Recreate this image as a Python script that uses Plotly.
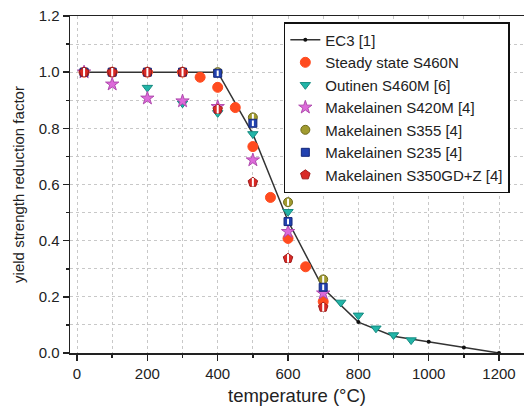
import plotly.graph_objects as go

# EC3 [1]
ec3_t = [20, 100, 200, 300, 400, 500, 600, 700, 800, 900, 1000, 1100, 1200]
ec3_k = [1.0, 1.0, 1.0, 1.0, 1.0, 0.78, 0.47, 0.23, 0.11, 0.06, 0.04, 0.02, 0.0]

# Steady state S460N
ss_t = [20, 100, 200, 300, 350, 400, 450, 500, 550, 600, 650, 700]
ss_k = [1.0, 1.0, 1.0, 1.0, 0.982, 0.946, 0.874, 0.735, 0.554, 0.408, 0.307, 0.183]

# Outinen S460M [6]
ou_t = [20, 200, 300, 400, 500, 600, 750, 800, 850, 900, 950]
ou_k = [1.0, 0.945, 0.889, 0.855, 0.78, 0.503, 0.18, 0.134, 0.088, 0.064, 0.046]

# Makelainen S420M [4]
m420_t = [20, 100, 200, 300, 400, 500, 600, 700]
m420_k = [1.0, 0.957, 0.907, 0.897, 0.877, 0.687, 0.432, 0.213]

# Makelainen S355 [4]
m355_t = [20, 100, 200, 300, 400, 500, 600, 700]
m355_k = [1.0, 1.0, 1.0, 1.0, 1.0, 0.839, 0.537, 0.262]

# Makelainen S235 [4]
m235_t = [20, 100, 200, 300, 400, 500, 600, 700]
m235_k = [1.0, 1.0, 1.0, 1.0, 0.996, 0.818, 0.468, 0.234]

# Makelainen S350GD+Z [4]
m350_t = [20, 100, 200, 300, 400, 500, 600, 700]
m350_k = [1.0, 1.0, 1.0, 1.0, 0.868, 0.608, 0.337, 0.163]

FONT = "Liberation Sans, Arial, sans-serif"
TXT = "#222222"

fig = go.Figure()

fig.add_trace(go.Scatter(
    x=ec3_t, y=ec3_k, name="EC3 [1]", mode="lines+markers", legendrank=1,
    line=dict(color="#333333", width=1.5),
    marker=dict(symbol="circle", size=4, color="#111111")))

def sc(x, y, name, rank, symbol, color, edge, size=9, stripe=False):
    fig.add_trace(go.Scatter(
        x=x, y=y, name=name, legendrank=rank, mode="markers",
        marker=dict(symbol=symbol, size=size, color=color,
                    line=dict(color=edge, width=1))))
    if stripe:
        # white centre stripe imitating the half-filled symbols
        fig.add_trace(go.Scatter(
            x=x, y=y, showlegend=False, mode="markers", hoverinfo="skip",
            marker=dict(symbol="line-ns", size=size - 4,
                        line=dict(color="white", width=2))))

sc(m355_t, m355_k, "Makelainen S355 [4]", 5, "circle", "#A19B2F", "#6E6A1C", stripe=True)
sc(ss_t, ss_k, "Steady state S460N", 2, "circle", "#FF4B1F", "#FF4B1F", 10)
sc(ou_t, ou_k, "Outinen S460M [6]", 3, "triangle-down", "#22B5A8", "#168A80")
sc(m420_t, m420_k, "Makelainen S420M [4]", 4, "star", "#DD6ADA", "#B04BAE", 10)
sc(m235_t, m235_k, "Makelainen S235 [4]", 6, "square", "#2242B0", "#14287A", 8, stripe=True)
sc(m350_t, m350_k, "Makelainen S350GD+Z [4]", 7, "pentagon", "#D92A26", "#A01A18", 10, stripe=True)

axis_common = dict(
    showline=True, linecolor=TXT, linewidth=1.5, mirror=True,
    ticks="outside", ticklen=6, tickwidth=1.5, tickcolor=TXT,
    showgrid=True, gridcolor="#C8C8C8", griddash="dot", gridwidth=1,
    zeroline=False, automargin=False,
    tickfont=dict(size=15, color=TXT, family=FONT),
)

fig.update_xaxes(
    range=[-20, 1271], tick0=0, dtick=200,
    minor=dict(dtick=100, ticks="outside", ticklen=3, tickcolor=TXT,
               showgrid=True, gridcolor="#C8C8C8", griddash="dot"),
    title=dict(text="temperature (°C)", font=dict(size=18.5, color=TXT, family=FONT),
               standoff=8),
    **axis_common)
fig.update_yaxes(
    range=[0, 1.2], tick0=0, dtick=0.2, tickformat=".1f",
    minor=dict(dtick=0.1, ticks="outside", ticklen=3, tickcolor=TXT,
               showgrid=True, gridcolor="#C8C8C8", griddash="dot"),
    title=dict(text="yield strength reduction factor",
               font=dict(size=15, color=TXT, family=FONT), standoff=10),
    **axis_common)

fig.update_layout(
    width=524, height=409,
    margin=dict(l=70, r=0, t=16, b=56),
    paper_bgcolor="white", plot_bgcolor="white",
    font=dict(family=FONT, color=TXT),
    hovermode=False,
    legend=dict(x=0.471, y=0.982, xanchor="left", yanchor="top",
                bgcolor="white", bordercolor="#111111", borderwidth=1.5,
                font=dict(size=15, color=TXT, family=FONT),
                tracegroupgap=0, itemwidth=30),
)

fig.write_html("out.html", config={"displayModeBar": False, "staticPlot": True},
               post_script="document.body.style.margin='0';document.body.style.overflow='hidden';")
